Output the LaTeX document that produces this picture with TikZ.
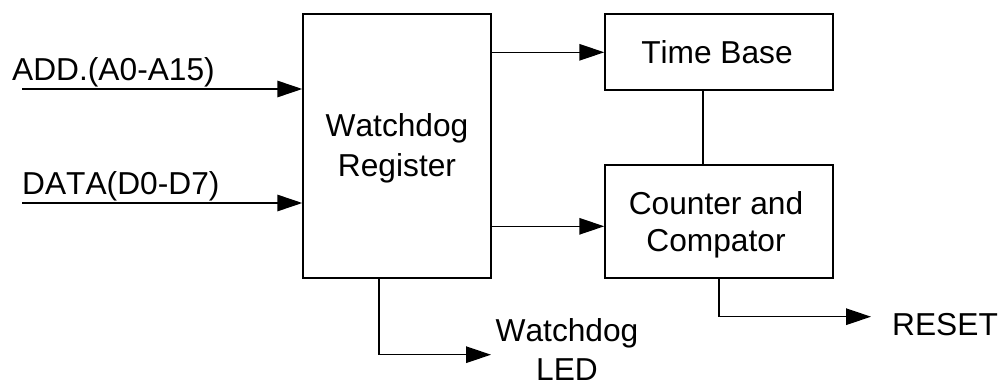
\documentclass[tikz,border=0pt]{standalone}
\usepackage{fontspec}
\setmainfont[Kerning=Off]{Liberation Sans}
\usetikzlibrary{arrows.meta}
\begin{document}
\begin{tikzpicture}[x=1pt,y=-1pt,
  box/.style={draw,line width=1.5pt,inner sep=0pt,align=center,font=\fontsize{31.7}{38.5}\selectfont},
  wire/.style={line width=1.5pt},
  arr/.style={wire,-{Triangle[length=25pt,width=16.5pt,sep=0pt]}},
  lbl/.style={inner sep=0pt,align=center,font=\fontsize{31.7}{38.5}\selectfont}]
\useasboundingbox (0,0) rectangle (1000,385);
\node[box,minimum width=188pt,minimum height=264pt] (wd) at (397,146) {\rule{0pt}{28pt}Watchdog\\[1.5pt]Register};
\node[box,minimum width=228pt,minimum height=76pt] (tb) at (719,52) {Time Base\hspace*{4pt}};
\node[box,minimum width=228pt,minimum height=113pt] (cc) at (719,221.5) {\rule{0pt}{30pt}Counter and\hspace*{6pt}\\[-1pt]Compator\hspace*{6pt}};
\coordinate (a) at (22,89);
\coordinate (d) at (22,203);
\node[lbl,anchor=base west] (al) at (12,81) {ADD.(A0-A15)};
\node[lbl,anchor=base west] (dl) at (22,194) {DATA(D0-D7)};
\node[lbl] (led) at (567,349.5) {Watchdog\\LED};
\node[lbl,anchor=base west] (rs) at (892,335) {RESET};
\draw[arr] (a) -- (a -| wd.west);
\draw[arr] (d) -- (d -| wd.west);
\coordinate (w1) at (wd.east |- 0,52.3);
\coordinate (w2) at (wd.east |- 0,226.3);
\draw[arr] (w1) -- (w1 -| tb.west);
\draw[arr] (w2) -- (w2 -| cc.west);
\draw[wire] (703,0 |- tb.south) -- (703,0 |- cc.north);
\draw[arr] (379,0 |- wd.south) |- (491,354.7);
\draw[arr] (719,0 |- cc.south) |- (871,316.7);
\end{tikzpicture}
\end{document}
